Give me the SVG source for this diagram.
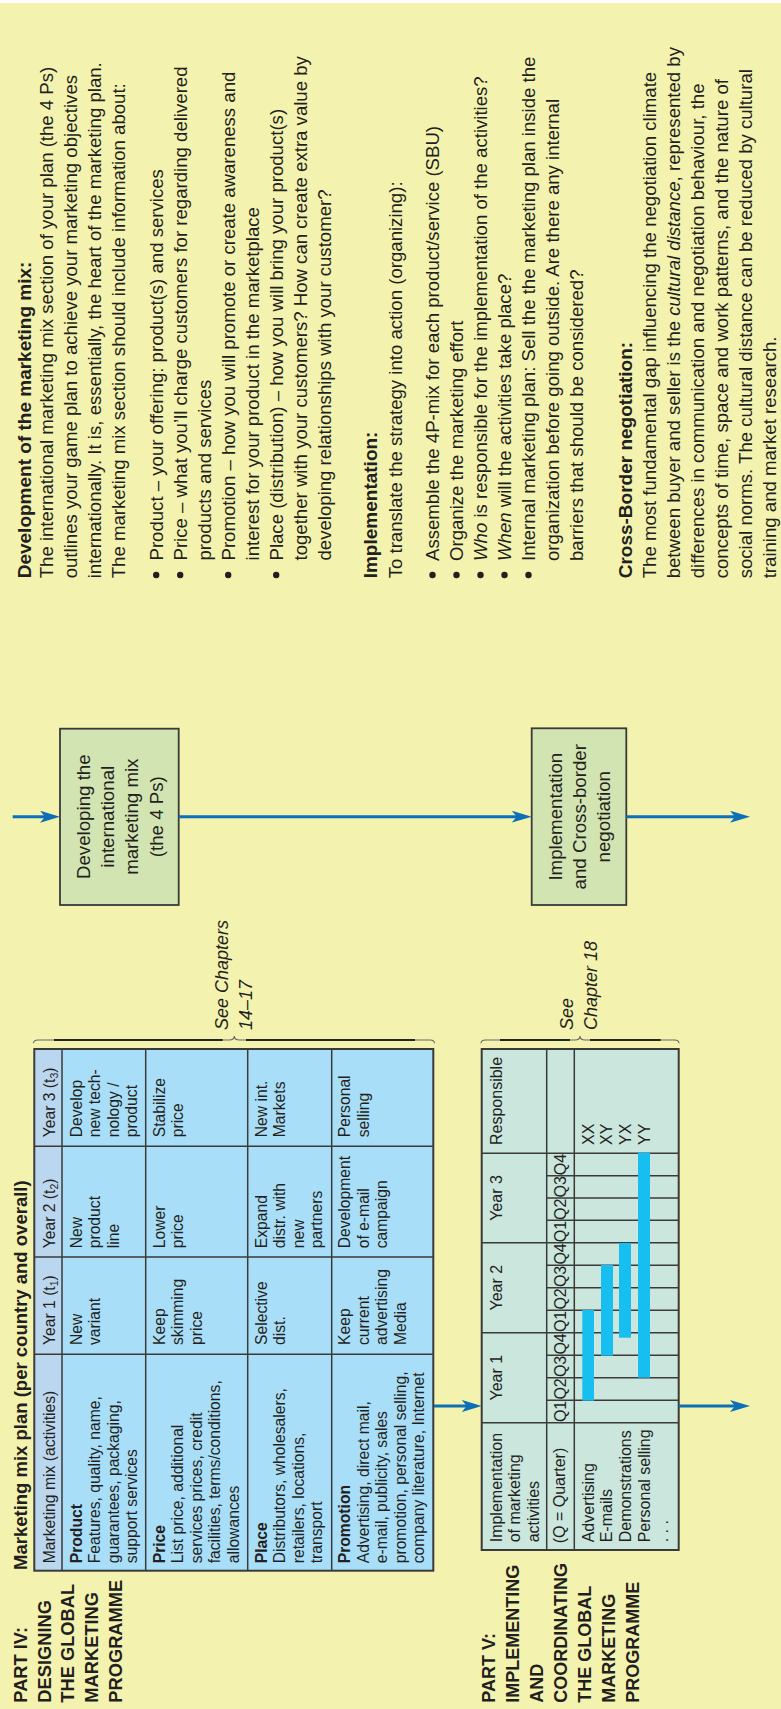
<svg xmlns="http://www.w3.org/2000/svg" width="781" height="1709" viewBox="0 0 781 1709">
  <defs>
    <style>
      text { font-family: "Liberation Sans", Arial, sans-serif; fill: #231f20; }
      .part { font-size: 18.3px; font-weight: bold; }
      .title { font-size: 18.5px; font-weight: bold; }
      .cell { font-size: 15.7px; }
      .cell2 { font-size: 16px; }
      .b { font-weight: bold; }
      .hd { font-weight: bold; font-size: 19px; }
      .i { font-style: italic; }
      .see { font-size: 18px; font-style: italic; }
      .boxtxt { font-size: 18.7px; text-anchor: middle; }
      .mid { text-anchor: middle; }
      .note { font-size: 18.6px; }
      .grid { stroke: #3a3a3a; stroke-width: 1.5; fill: none; }
      .frame { stroke: #3a3a3a; stroke-width: 2; fill: none; }
      .node { fill: #d2e4b2; stroke: #3a3a3a; stroke-width: 1.8; }
      .bar { fill: #17bef0; }
      .flow { stroke: #0d6fb8; stroke-width: 3; fill: none; }
      .brace { stroke: #666; stroke-width: 1.1; fill: none; }
      .brace-bar { stroke: #262626; stroke-width: 1.9; }
      .dot { fill: #231f20; }
    </style>
    <marker id="arrow" viewBox="0 0 20 12" refX="10" refY="6" markerWidth="20" markerHeight="12" markerUnits="userSpaceOnUse" orient="auto">
      <path d="M0,0 L20,6 L0,12 L5,6 Z" fill="#0d6fb8"/>
    </marker>
  </defs>

  <!-- page background -->
  <rect x="0" y="0" width="781" height="1709" fill="#ffffff"/>
  <rect x="0" y="3" width="781" height="1706" fill="#f3f2ae"/>

  <!-- the whole chart is laid out landscape and turned a quarter turn -->
  <g id="chart" transform="translate(0 1709) rotate(-90)">

    <g id="part-iv-heading" class="part">
      <text x="6.3" y="26.7">PART IV:</text>
      <text x="6.3" y="50.5">DESIGNING</text>
      <text x="6.3" y="74.3">THE GLOBAL</text>
      <text x="6.3" y="98.1">MARKETING</text>
      <text x="6.3" y="121.9">PROGRAMME</text>
    </g>

    <g id="marketing-mix-plan">
      <text class="title" x="139" y="26.7">Marketing mix plan (per country and overall)</text>
      <rect x="138.3" y="34.3" width="521.7" height="399" fill="#a9def8"/>
      <rect x="138.3" y="34.3" width="521.7" height="27.7" fill="#bbd7ef"/>
      <g class="grid">
        <line x1="138.3" y1="62" x2="660" y2="62"/>
        <line x1="138.3" y1="145.7" x2="660" y2="145.7"/>
        <line x1="138.3" y1="247.7" x2="660" y2="247.7"/>
        <line x1="138.3" y1="331.7" x2="660" y2="331.7"/>
        <line x1="354.7" y1="34.3" x2="354.7" y2="433.3"/>
        <line x1="452" y1="34.3" x2="452" y2="433.3"/>
        <line x1="562.7" y1="34.3" x2="562.7" y2="433.3"/>
      </g>
      <rect class="frame" x="138.3" y="34.3" width="521.7" height="399"/>

      <g class="cell">
        <text x="145.7" y="55">Marketing mix (activities)</text>
        <text x="364" y="55">Year 1 (t<tspan dy="3" font-size="10.5">1</tspan><tspan dy="-3">)</tspan></text>
        <text x="460.7" y="55">Year 2 (t<tspan dy="3" font-size="10.5">2</tspan><tspan dy="-3">)</tspan></text>
        <text x="571.7" y="55">Year 3 (t<tspan dy="3" font-size="10.5">3</tspan><tspan dy="-3">)</tspan></text>

        <!-- Product -->
        <text x="145.7" y="81.7" class="b">Product</text>
        <text x="145.7" y="100.2">Features, quality, name,</text>
        <text x="145.7" y="118.7">guarantees, packaging,</text>
        <text x="145.7" y="137.2">support services</text>
        <text x="364" y="81.7">New</text>
        <text x="364" y="100.2">variant</text>
        <text x="460.7" y="81.7">New</text>
        <text x="460.7" y="100.2">product</text>
        <text x="460.7" y="118.7">line</text>
        <text x="571.7" y="81.7">Develop</text>
        <text x="571.7" y="100.2">new tech-</text>
        <text x="571.7" y="118.7">nology /</text>
        <text x="571.7" y="137.2">product</text>

        <!-- Price -->
        <text x="145.7" y="164.5" class="b">Price</text>
        <text x="145.7" y="183">List price, additional</text>
        <text x="145.7" y="201.5">services prices, credit</text>
        <text x="145.7" y="220">facilities, terms/conditions,</text>
        <text x="145.7" y="238.5">allowances</text>
        <text x="364" y="164.5">Keep</text>
        <text x="364" y="183">skimming</text>
        <text x="364" y="201.5">price</text>
        <text x="460.7" y="164.5">Lower</text>
        <text x="460.7" y="183">price</text>
        <text x="571.7" y="164.5">Stabilize</text>
        <text x="571.7" y="183">price</text>

        <!-- Place -->
        <text x="145.7" y="266.7" class="b">Place</text>
        <text x="145.7" y="285.2">Distributors, wholesalers,</text>
        <text x="145.7" y="303.7">retailers, locations,</text>
        <text x="145.7" y="322.2">transport</text>
        <text x="364" y="266.7">Selective</text>
        <text x="364" y="285.2">dist.</text>
        <text x="460.7" y="266.7">Expand</text>
        <text x="460.7" y="285.2">distr. with</text>
        <text x="460.7" y="303.7">new</text>
        <text x="460.7" y="322.2">partners</text>
        <text x="571.7" y="266.7">New int.</text>
        <text x="571.7" y="285.2">Markets</text>

        <!-- Promotion -->
        <text x="145.7" y="350" class="b">Promotion</text>
        <text x="145.7" y="368.5">Advertising, direct mail,</text>
        <text x="145.7" y="387">e-mail, publicity, sales</text>
        <text x="145.7" y="405.5">promotion, personal selling,</text>
        <text x="145.7" y="424">company literature, Internet</text>
        <text x="364" y="350">Keep</text>
        <text x="364" y="368.5">current</text>
        <text x="364" y="387">advertising</text>
        <text x="364" y="405.5">Media</text>
        <text x="460.7" y="350">Development</text>
        <text x="460.7" y="368.5">of e-mail</text>
        <text x="460.7" y="387">campaign</text>
        <text x="571.7" y="350">Personal</text>
        <text x="571.7" y="368.5">selling</text>
      </g>

      <path class="brace" d="M665.7,33.5 Q669,33.5 669,38 L669,229 Q669,234.3 673,234.3 Q669,234.3 669,239.6 L669,430 Q669,434.5 665.7,434.5"/>
      <line class="brace-bar" x1="669" y1="54" x2="669" y2="222.7"/>
      <line class="brace-bar" x1="669" y1="246" x2="669" y2="415"/>
      <text class="see" x="679" y="227.5">See Chapters</text>
      <text class="see" x="679" y="251.5">14–17</text>
    </g>

    <g id="part-v-heading" class="part" style="font-size:18px">
      <text x="6.3" y="495">PART V:</text>
      <text x="6.3" y="519">IMPLEMENTING</text>
      <text x="6.3" y="543">AND</text>
      <text x="6.3" y="567">COORDINATING</text>
      <text x="6.3" y="591">THE GLOBAL</text>
      <text x="6.3" y="615">MARKETING</text>
      <text x="6.3" y="639">PROGRAMME</text>
    </g>

    <g id="implementation-schedule">
      <rect x="159" y="481.7" width="501" height="197" fill="#cae6dd"/>
      <g class="grid">
        <line x1="159" y1="546.7" x2="660" y2="546.7"/>
        <line x1="159" y1="574.3" x2="660" y2="574.3"/>
        <line x1="286.3" y1="481.7" x2="286.3" y2="678.7"/>
        <line x1="376.3" y1="481.7" x2="376.3" y2="678.7"/>
        <line x1="466.3" y1="481.7" x2="466.3" y2="678.7"/>
        <line x1="555.7" y1="481.7" x2="555.7" y2="678.7"/>
        <!-- quarter divisions -->
        <line x1="308.8" y1="546.7" x2="308.8" y2="678.7"/>
        <line x1="331.3" y1="546.7" x2="331.3" y2="678.7"/>
        <line x1="353.8" y1="546.7" x2="353.8" y2="678.7"/>
        <line x1="398.8" y1="546.7" x2="398.8" y2="678.7"/>
        <line x1="421.3" y1="546.7" x2="421.3" y2="678.7"/>
        <line x1="443.8" y1="546.7" x2="443.8" y2="678.7"/>
        <line x1="488.65" y1="546.7" x2="488.65" y2="678.7"/>
        <line x1="511" y1="546.7" x2="511" y2="678.7"/>
        <line x1="533.35" y1="546.7" x2="533.35" y2="678.7"/>
      </g>
      <rect class="frame" x="159" y="481.7" width="501" height="197"/>

      <!-- activity bars -->
      <rect class="bar" x="308.3" y="582.3" width="90.7" height="11.7"/>
      <rect class="bar" x="353.3" y="601" width="90.7" height="12"/>
      <rect class="bar" x="371.3" y="619" width="94.7" height="12"/>
      <rect class="bar" x="331.3" y="638" width="225" height="12"/>

      <g class="cell2">
        <text x="166.7" y="501.7">Implementation</text>
        <text x="166.7" y="520.3">of marketing</text>
        <text x="166.7" y="539">activities</text>
        <text x="165.7" y="565">(Q = Quarter)</text>
        <text class="mid" x="331.3" y="501.7">Year 1</text>
        <text class="mid" x="421.3" y="501.7">Year 2</text>
        <text class="mid" x="511" y="501.7">Year 3</text>
        <text x="564" y="501.7">Responsible</text>

        <text class="mid" x="297.6" y="566">Q1</text>
        <text class="mid" x="320.1" y="566">Q2</text>
        <text class="mid" x="342.6" y="566">Q3</text>
        <text class="mid" x="365.1" y="566">Q4</text>
        <text class="mid" x="387.6" y="566">Q1</text>
        <text class="mid" x="410.1" y="566">Q2</text>
        <text class="mid" x="432.6" y="566">Q3</text>
        <text class="mid" x="455.1" y="566">Q4</text>
        <text class="mid" x="477.5" y="566">Q1</text>
        <text class="mid" x="499.8" y="566">Q2</text>
        <text class="mid" x="522.2" y="566">Q3</text>
        <text class="mid" x="544.5" y="566">Q4</text>

        <text x="166.7" y="593.5">Advertising</text>
        <text x="166.7" y="612.2">E-mails</text>
        <text x="166.7" y="630.9">Demonstrations</text>
        <text x="166.7" y="649.6">Personal selling</text>
        <text x="166.7" y="668.3">. . .</text>

        <text x="564" y="593.5">XX</text>
        <text x="564" y="612.2">XY</text>
        <text x="564" y="630.9">YX</text>
        <text x="564" y="649.6">YY</text>
      </g>

      <path class="brace" d="M665.7,481 Q669,481 669,485.5 L669,575 Q669,580 673,580 Q669,580 669,585 L669,674.5 Q669,679 665.7,679"/>
      <line class="brace-bar" x1="669" y1="500" x2="669" y2="570"/>
      <line class="brace-bar" x1="669" y1="590" x2="669" y2="660.7"/>
      <text class="see" x="679" y="573.3">See</text>
      <text class="see" x="679" y="597">Chapter 18</text>
    </g>

    <g id="node-marketing-mix">
      <rect class="node" x="804" y="60" width="176.3" height="118.7"/>
      <text class="boxtxt" x="892.3" y="90">Developing the</text>
      <text class="boxtxt" x="892.3" y="114.3">international</text>
      <text class="boxtxt" x="892.3" y="138.3">marketing mix</text>
      <text class="boxtxt" x="892.3" y="162.7">(the 4 Ps)</text>
    </g>

    <g id="node-implementation">
      <rect class="node" x="804" y="531.7" width="176.7" height="94.6"/>
      <text class="boxtxt" x="892.3" y="561.7">Implementation</text>
      <text class="boxtxt" x="892.3" y="586">and Cross-border</text>
      <text class="boxtxt" x="892.3" y="610">negotiation</text>
    </g>

    <g id="notes-marketing-mix" class="note">
      <text x="1130.7" y="31" class="hd">Development of the marketing mix:</text>
      <text x="1130.7" y="53.3">The international marketing mix section of your plan (the 4 Ps)</text>
      <text x="1130.7" y="77.3">outlines your game plan to achieve your marketing objectives</text>
      <text x="1130.7" y="101.3">internationally. It is, essentially, the heart of the marketing plan.</text>
      <text x="1130.7" y="125.3">The marketing mix section should include information about:</text>
      <circle class="dot" cx="1134" cy="156.2" r="3.2"/>
      <text x="1148.5" y="162.7">Product – your offering: product(s) and services</text>
      <circle class="dot" cx="1134" cy="180.2" r="3.2"/>
      <text x="1148.5" y="186.7">Price – what you’ll charge customers for regarding delivered</text>
      <text x="1148.5" y="210.7">products and services</text>
      <circle class="dot" cx="1134" cy="228.2" r="3.2"/>
      <text x="1148.5" y="234.7">Promotion – how you will promote or create awareness and</text>
      <text x="1148.5" y="258.7">interest for your product in the marketplace</text>
      <circle class="dot" cx="1134" cy="276.2" r="3.2"/>
      <text x="1148.5" y="282.7">Place (distribution) – how you will bring your product(s)</text>
      <text x="1148.5" y="306.7">together with your customers? How can create extra value by</text>
      <text x="1148.5" y="330.7">developing relationships with your customer?</text>
    </g>

    <g id="notes-implementation" class="note">
      <text x="1130.7" y="377.2" class="hd">Implementation:</text>
      <text x="1130.7" y="402">To translate the strategy into action (organizing):</text>
      <circle class="dot" cx="1134" cy="432.5" r="3.2"/>
      <text x="1148" y="439">Assemble the 4P-mix for each product/service (SBU)</text>
      <circle class="dot" cx="1134" cy="456.5" r="3.2"/>
      <text x="1148" y="463">Organize the marketing effort</text>
      <circle class="dot" cx="1134" cy="480.5" r="3.2"/>
      <text x="1148" y="487"><tspan class="i">Who</tspan> is responsible for the implementation of the activities?</text>
      <circle class="dot" cx="1134" cy="504.5" r="3.2"/>
      <text x="1148" y="511"><tspan class="i">When</tspan> will the activities take place?</text>
      <circle class="dot" cx="1134" cy="528.5" r="3.2"/>
      <text x="1148" y="535">Internal marketing plan: Sell the the marketing plan inside the</text>
      <text x="1148" y="559">organization before going outside. Are there any internal</text>
      <text x="1148" y="583">barriers that should be considered?</text>
    </g>

    <g id="notes-negotiation" class="note">
      <text x="1130.7" y="631.7" class="hd">Cross-Border negotiation:</text>
      <text x="1130.7" y="655.7">The most fundamental gap influencing the negotiation climate</text>
      <text x="1130.7" y="679.7">between buyer and seller is the <tspan class="i">cultural distance</tspan>, represented by</text>
      <text x="1130.7" y="703.7">differences in communication and negotiation behaviour, the</text>
      <text x="1130.7" y="727.7">concepts of time, space and work patterns, and the nature of</text>
      <text x="1130.7" y="751.7">social norms. The cultural distance can be reduced by cultural</text>
      <text x="1130.7" y="775.7">training and market research.</text>
    </g>

    <g id="connectors">
      <line class="flow" x1="892.3" y1="12.7" x2="892.3" y2="50" marker-end="url(#arrow)"/>
      <line class="flow" x1="892.3" y1="178.7" x2="892.3" y2="521.7" marker-end="url(#arrow)"/>
      <line class="flow" x1="892.3" y1="626.3" x2="892.3" y2="740" marker-end="url(#arrow)"/>
      <line class="flow" x1="303" y1="434" x2="303" y2="471.7" marker-end="url(#arrow)"/>
      <line class="flow" x1="303" y1="678.7" x2="303" y2="740" marker-end="url(#arrow)"/>
    </g>
  </g>
</svg>
